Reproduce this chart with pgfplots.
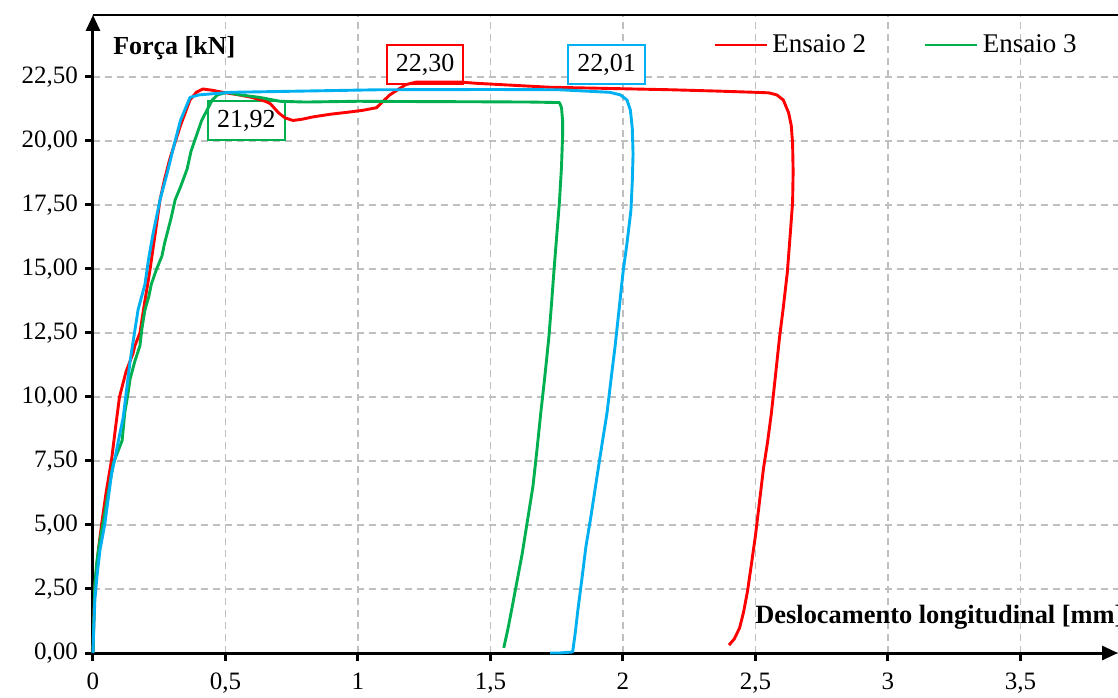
\documentclass[border=0pt]{standalone}
\usepackage{fontspec}
\setmainfont{Liberation Serif}
\usepackage{pgfplots}
\pgfplotsset{compat=1.18}
\usetikzlibrary{arrows.meta}
\definecolor{cred}{RGB}{255,0,0}
\definecolor{cgreen}{RGB}{0,176,80}
\definecolor{cblue}{RGB}{0,176,240}
\definecolor{gridc}{RGB}{191,191,191}
\begin{document}
\begin{tikzpicture}
\begin{axis}[
  scale only axis, width=512.5pt, height=319pt,
  xmin=0, xmax=3.868, ymin=0, ymax=24.92,
  axis x line=bottom, axis y line=left,
  axis line style={line width=1.5pt, -{Triangle[length=8pt,width=7pt]}},
  xtick={0,0.5,1,1.5,2,2.5,3,3.5},
  ytick={0,2.5,5,7.5,10,12.5,15,17.5,20,22.5},
  grid=major,
  grid style={gridc, line width=0.75pt, dash pattern=on 3.5pt off 2.5pt},
  tick align=outside, major tick length=4pt,
  tick style={black, line width=1.5pt},
  ticklabel style={font=\fontsize{12.5}{14}\selectfont},
  yticklabel style={/pgf/number format/.cd, fixed, fixed zerofill, precision=2, use comma, assume math mode=true},
  xticklabel style={yshift=-2.5pt, /pgf/number format/.cd, fixed, precision=1, use comma, assume math mode=true},
  legend style={at={(0.605,0.953)}, anchor=west, draw=none, fill=none, inner sep=0pt,
    font=\fontsize{13.5}{15}\selectfont, /tikz/every even column/.append style={column sep=27pt}},
  legend columns=2,
  legend image code/.code={\draw[#1, line width=1.4pt] (0pt,0pt) -- (26pt,0pt);},
  clip=false,
]
\coordinate (O) at (axis cs:0,0);
\draw[line width=0.6pt] (axis cs:0,24.92) -- (axis cs:3.868,24.92);
\node[anchor=west, font=\bfseries\fontsize{13}{15}\selectfont, inner sep=0pt] at (axis cs:0.075,23.63) {Força [kN]};
\node[anchor=west, font=\bfseries\fontsize{13.2}{15}\selectfont, inner sep=0pt] at (axis cs:2.498,1.41) {Deslocamento longitudinal [mm]};
\node[draw=cgreen, line width=0.75pt, fill=white, minimum width=38.5pt, minimum height=19.5pt, inner sep=0pt, font=\fontsize{13}{15}\selectfont] at (axis cs:0.579,20.80) {21,92};
\node[draw=cred, line width=0.75pt, fill=white, minimum width=38pt, minimum height=19.5pt, inner sep=0pt, font=\fontsize{13}{15}\selectfont] at (axis cs:1.253,22.99) {22,30};
\node[draw=cblue, line width=0.75pt, fill=white, minimum width=38.5pt, minimum height=19.5pt, inner sep=0pt, font=\fontsize{13}{15}\selectfont] at (axis cs:1.938,22.99) {22,01};

\addplot[cred, line width=1.45pt, line join=round] coordinates {
(0,0) (0.003,1.3) (0.007,2.6) (0.02,4.0) (0.033,5.07) (0.05,6.3) (0.07,7.54) (0.085,8.8) (0.10,10.0) (0.125,11.0) (0.151,11.7) (0.158,12.0) (0.177,12.5) (0.195,13.7) (0.215,14.96) (0.235,16.4) (0.253,17.7) (0.27,18.5) (0.29,19.3) (0.33,20.6) (0.366,21.6) (0.39,21.9) (0.415,22.03) (0.45,21.98) (0.49,21.9) (0.55,21.8) (0.60,21.7) (0.65,21.55) (0.67,21.45) (0.70,21.1) (0.725,20.9) (0.755,20.8) (0.79,20.85) (0.83,20.94) (0.9,21.05) (0.96,21.12) (1.02,21.2) (1.07,21.3) (1.09,21.5) (1.12,21.8) (1.15,22.0) (1.18,22.2) (1.22,22.3) (1.3,22.3) (1.385,22.3) (1.45,22.25) (1.54,22.2) (1.72,22.1) (1.95,22.05) (2.18,22.0) (2.35,21.95) (2.5,21.9) (2.55,21.88) (2.58,21.8) (2.605,21.6) (2.625,21.1) (2.635,20.6) (2.64,19.9) (2.642,18.8) (2.64,17.6) (2.63,16.2) (2.62,14.86) (2.605,13.5) (2.59,12.26) (2.575,10.8) (2.56,9.37) (2.545,8.2) (2.53,7.2) (2.515,5.9) (2.50,4.6) (2.485,3.5) (2.47,2.42) (2.455,1.6) (2.44,0.98) (2.42,0.55) (2.40,0.31)
};
\addlegendentry{Ensaio 2}
\addplot[cgreen, line width=1.45pt, line join=round] coordinates {
(0,0) (0.002,0.8) (0.007,2.7) (0.015,3.6) (0.026,4.4) (0.04,5.2) (0.053,6.0) (0.065,6.7) (0.076,7.4) (0.095,7.9) (0.11,8.3) (0.12,9.4) (0.13,10.0) (0.14,10.7) (0.158,11.4) (0.177,12.0) (0.185,12.7) (0.196,13.4) (0.21,13.9) (0.22,14.4) (0.24,15.0) (0.26,15.5) (0.27,16.0) (0.28,16.4) (0.295,17.0) (0.31,17.7) (0.33,18.2) (0.355,18.9) (0.37,19.6) (0.39,20.2) (0.41,20.8) (0.43,21.2) (0.45,21.6) (0.47,21.8) (0.505,21.9) (0.555,21.8) (0.63,21.7) (0.705,21.55) (0.8,21.52) (1.0,21.55) (1.2,21.54) (1.46,21.53) (1.65,21.52) (1.76,21.5) (1.768,21.3) (1.772,20.8) (1.772,20.2) (1.768,19.0) (1.76,17.6) (1.75,16.3) (1.74,15.0) (1.73,13.6) (1.72,12.3) (1.705,10.8) (1.69,9.4) (1.675,7.9) (1.66,6.5) (1.64,5.2) (1.62,3.9) (1.60,2.8) (1.58,1.7) (1.565,0.9) (1.55,0.2)
};
\addlegendentry{Ensaio 3}
\addplot[cblue, line width=1.45pt, line join=round, forget plot] coordinates {
(0,0) (0.003,1.0) (0.007,2.07) (0.015,3.0) (0.026,4.0) (0.045,5.07) (0.057,6.0) (0.07,7.0) (0.085,7.7) (0.096,8.3) (0.114,9.2) (0.127,10.3) (0.14,11.4) (0.155,12.4) (0.17,13.4) (0.196,14.4) (0.21,15.4) (0.227,16.4) (0.253,17.7) (0.28,18.75) (0.305,19.8) (0.33,20.8) (0.35,21.3) (0.366,21.7) (0.40,21.8) (0.52,21.9) (0.8,21.95) (1.08,22.0) (1.5,22.01) (1.76,22.0) (1.95,21.9) (1.99,21.8) (2.015,21.6) (2.028,21.2) (2.035,20.5) (2.038,19.5) (2.035,18.4) (2.03,17.3) (2.015,16.0) (2.0,14.86) (1.985,13.4) (1.97,11.97) (1.955,10.7) (1.94,9.4) (1.92,8.1) (1.90,6.76) (1.88,5.4) (1.86,4.15) (1.845,2.9) (1.83,1.7) (1.82,0.8) (1.81,0.04) (1.76,0.0) (1.725,0.0)
};
\end{axis}
\pgfresetboundingbox
\path (O) ++(-46.5pt,-22pt) rectangle ++(559pt,348.5pt);
\end{tikzpicture}
\end{document}
